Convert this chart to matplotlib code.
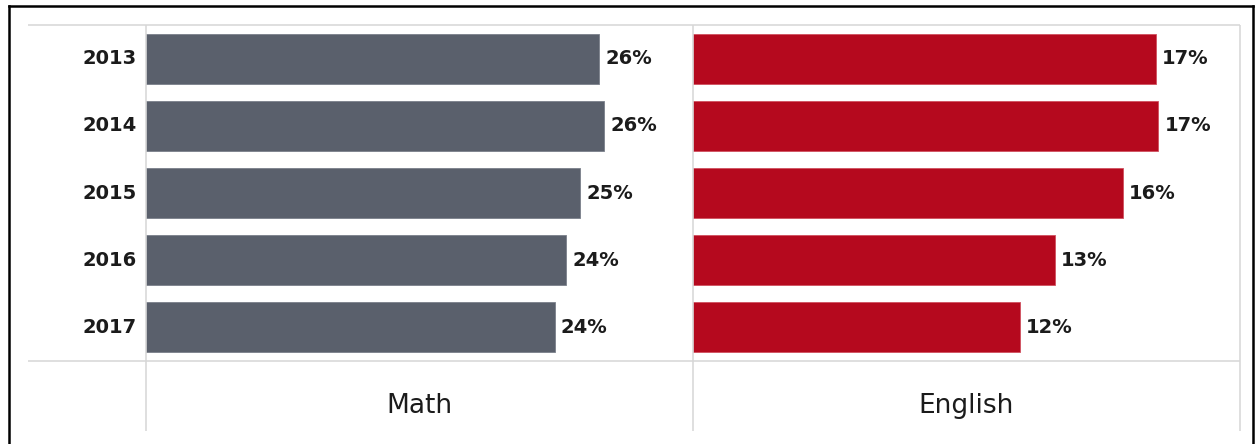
import matplotlib
matplotlib.use("Agg")
import matplotlib.pyplot as plt
from matplotlib.lines import Line2D

# Share of students by year
years = ["2013", "2014", "2015", "2016", "2017"]
math_pct = [26.1, 26.4, 25.0, 24.2, 23.55]
english_pct = [17.0, 17.1, 15.8, 13.3, 12.0]
panel_names = ["Math", "English"]

W, H = 1257, 444
DPI = 100
fig = plt.figure(figsize=(W / DPI, H / DPI), dpi=DPI)
fig.patch.set_facecolor("white")

FONT = ["DejaVu Sans"]
TEXT = "#1b1b1b"
GRID = "#d6d6d6"


def fx(px):
    return px / W


def fy(py):
    return 1 - py / H


# table frame in pixel positions
row_top, row_mid, row_bot = 25, 361, 431
col_left, col_a, col_b, col_right = 28, 146, 693, 1240

panels = [
    ((col_a, col_b), math_pct, "#5a606c", "#7a808b", 31.5),
    ((col_b, col_right), english_pct, "#b5091e", "#d0505f", 20.1),
]

for k, ((x0, x1), vals, color, edge, xmax) in enumerate(panels):
    ax = fig.add_axes([fx(x0), fy(row_mid), (x1 - x0) / W, (row_mid - row_top) / H])
    ax.barh(range(len(years)), vals, height=0.745, color=color,
            edgecolor=edge, linewidth=0.6)
    ax.set_xlim(0, xmax)
    ax.set_ylim(len(years) - 0.5, -0.5)
    ax.axis("off")
    for i, v in enumerate(vals):
        ax.annotate(f"{v:.0f}%", (v, i), xytext=(6, 0), textcoords="offset pixels",
                    ha="left", va="center", fontsize=14, fontweight="bold",
                    family=FONT, color=TEXT)
    if k == 0:
        for i, y in enumerate(years):
            ax.annotate(y, (0, i), xytext=(-9, 0), textcoords="offset pixels",
                        ha="right", va="center", fontsize=14, fontweight="bold",
                        family=FONT, color=TEXT)
    ax.annotate(panel_names[k], (0.5, 0), xycoords="axes fraction",
                xytext=(0, -52), textcoords="offset pixels",
                ha="center", va="baseline", fontsize=19,
                family=FONT, color=TEXT)

# light table rules
def rule(xs, ys, color=GRID, lw=1.1, cap="butt"):
    fig.add_artist(Line2D([fx(x) for x in xs], [fy(y) for y in ys],
                          transform=fig.transFigure, color=color, lw=lw,
                          solid_capstyle=cap))

rule((col_left, col_right), (row_top, row_top))
rule((col_left, col_right), (row_mid, row_mid))
for x in (col_a, col_b, col_right):
    rule((x, x), (row_top, row_bot))

# outer black frame
rule((9, 1253), (6, 6), color="black", lw=1.8, cap="projecting")
rule((9, 9), (6, H + 5), color="black", lw=1.8, cap="projecting")
rule((1253, 1253), (6, H + 5), color="black", lw=1.8, cap="projecting")

fig.savefig("out.png", dpi=DPI, facecolor="white")
